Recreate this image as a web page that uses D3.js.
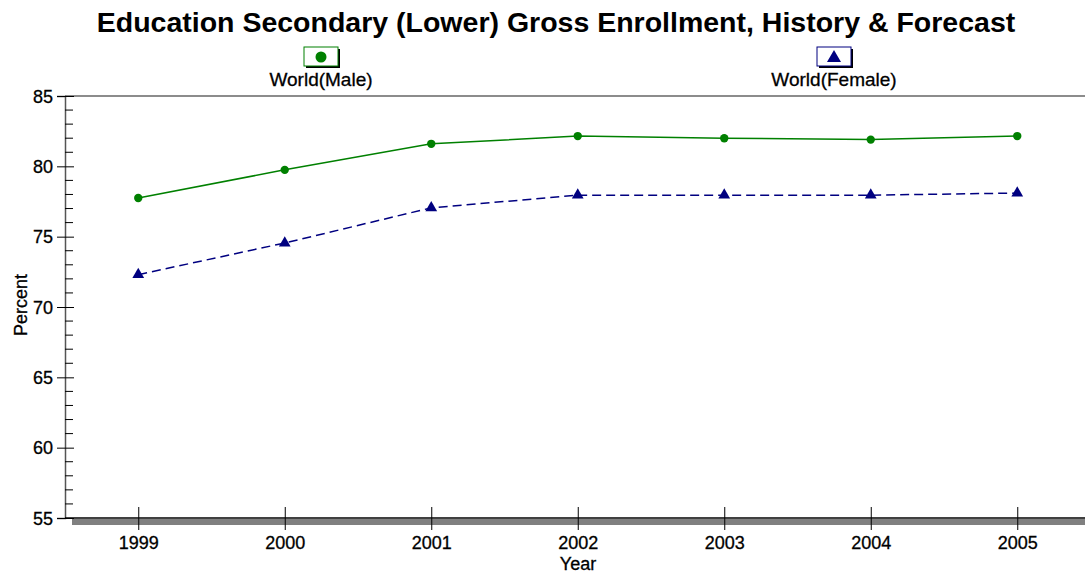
<!DOCTYPE html>
<html>
<head>
<meta charset="utf-8">
<script src="https://cdn.jsdelivr.net/npm/d3@7/dist/d3.min.js"></script>
<style>
  body { margin: 0; background: #fff; }
  text { font-family: "Liberation Sans", Arial, sans-serif; fill: #000; }
</style>
</head>
<body>
<svg width="1085" height="573"></svg>
<script>
var years = [1999, 2000, 2001, 2002, 2003, 2004, 2005];
var male = [77.75, 79.75, 81.6, 82.15, 82.0, 81.9, 82.15];
var female = [72.3, 74.55, 77.05, 77.95, 77.95, 77.95, 78.1];
var yTicks = [55, 60, 65, 70, 75, 80, 85];

var svg = d3.select("svg");

var x = d3.scaleLinear().domain([1998.5, 2005.5]).range([65, 1090.5]);
var y = d3.scaleLinear().domain([55, 85]).range([518, 96]);

// title
svg.append("text")
    .attr("x", 556).attr("y", 32)
    .attr("text-anchor", "middle")
    .style("font-size", "28.5px").style("font-weight", "bold")
    .text("Education Secondary (Lower) Gross Enrollment, History & Forecast");

// frame top line
svg.append("line")
    .attr("x1", 65).attr("x2", 1085).attr("y1", 96).attr("y2", 96)
    .attr("stroke", "#666").attr("stroke-width", 1.5);

// y axis
var yAxis = svg.append("g").attr("transform", "translate(65,0)")
    .call(d3.axisLeft(y).tickValues(yTicks).tickSize(8).tickPadding(4).tickFormat(d3.format("d")));
yAxis.select(".domain").attr("stroke", "#555").attr("stroke-width", 1.5);
yAxis.selectAll(".tick line").attr("x2", 9).attr("x1", -8).attr("stroke", "#000");
yAxis.selectAll(".tick text").style("font-size", "18px").attr("dy", "0.35em")
    .attr("stroke", "#000").attr("stroke-width", 0.3);

// minor ticks
var minor = d3.range(55, 86).filter(function(d) { return d % 5 !== 0; });
svg.append("g").selectAll("line").data(minor).enter().append("line")
    .attr("x1", 65).attr("x2", 73)
    .attr("y1", function(d) { return y(d); }).attr("y2", function(d) { return y(d); })
    .attr("stroke", "#000");

// x axis bar
svg.append("rect").attr("x", 72).attr("y", 519).attr("width", 1013).attr("height", 6).attr("fill", "#808080");
var xAxis = svg.append("g").attr("transform", "translate(0,518)")
    .call(d3.axisBottom(x).tickValues(years).tickSize(12).tickPadding(6).tickFormat(d3.format("d")));
xAxis.select(".domain").remove();
xAxis.append("line").attr("x1", 65).attr("x2", 1085).attr("stroke", "#000").attr("stroke-width", 1.5);
xAxis.selectAll(".tick line").attr("y1", -11).attr("y2", 12).attr("stroke", "#000");
xAxis.selectAll(".tick text").style("font-size", "18px")
    .attr("stroke", "#000").attr("stroke-width", 0.3);

// axis titles
svg.append("text")
    .attr("transform", "translate(27,305) rotate(-90)")
    .attr("text-anchor", "middle")
    .style("font-size", "18px")
    .attr("stroke", "#000").attr("stroke-width", 0.3)
    .text("Percent");
svg.append("text")
    .attr("x", 578).attr("y", 570)
    .attr("text-anchor", "middle")
    .style("font-size", "18px")
    .attr("stroke", "#000").attr("stroke-width", 0.3)
    .text("Year");

// lines
var line = d3.line()
    .x(function(d, i) { return x(years[i]); })
    .y(function(d) { return y(d); });

svg.append("path").datum(male)
    .attr("d", line).attr("fill", "none")
    .attr("stroke", "#008000").attr("stroke-width", 1.5);
svg.append("path").datum(female)
    .attr("d", line).attr("fill", "none")
    .attr("stroke", "#000080").attr("stroke-width", 1.5)
    .attr("stroke-dasharray", "9,5");

var tri = d3.symbol().type(d3.symbolTriangle).size(60);
var triBig = d3.symbol().type(d3.symbolTriangle).size(85);

svg.append("g").selectAll("circle").data(male).enter().append("circle")
    .attr("cx", function(d, i) { return x(years[i]); })
    .attr("cy", function(d) { return y(d); })
    .attr("r", 4.2).attr("fill", "#008000");

svg.append("g").selectAll("path").data(female).enter().append("path")
    .attr("d", tri)
    .attr("transform", function(d, i) { return "translate(" + x(years[i]) + "," + y(d) + ")"; })
    .attr("fill", "#000080");

// legend
function legendBox(cx, color, label, marker) {
    var g = svg.append("g");
    g.append("rect").attr("x", cx - 15).attr("y", 49).attr("width", 34).attr("height", 19).attr("fill", "#000");
    g.append("rect").attr("x", cx - 17).attr("y", 47).attr("width", 34).attr("height", 19)
        .attr("fill", "#fff").attr("stroke", color).attr("stroke-width", 1);
    if (marker === "circle") {
        g.append("circle").attr("cx", cx).attr("cy", 57).attr("r", 5.5).attr("fill", color);
    } else {
        g.append("path").attr("d", triBig).attr("transform", "translate(" + cx + ",58)").attr("fill", color);
    }
    g.append("text").attr("x", cx).attr("y", 86).attr("text-anchor", "middle")
        .style("font-size", "19px")
        .attr("stroke", "#000").attr("stroke-width", 0.3)
        .text(label);
}
legendBox(321, "#008000", "World(Male)", "circle");
legendBox(834, "#000080", "World(Female)", "triangle");
</script>
</body>
</html>
